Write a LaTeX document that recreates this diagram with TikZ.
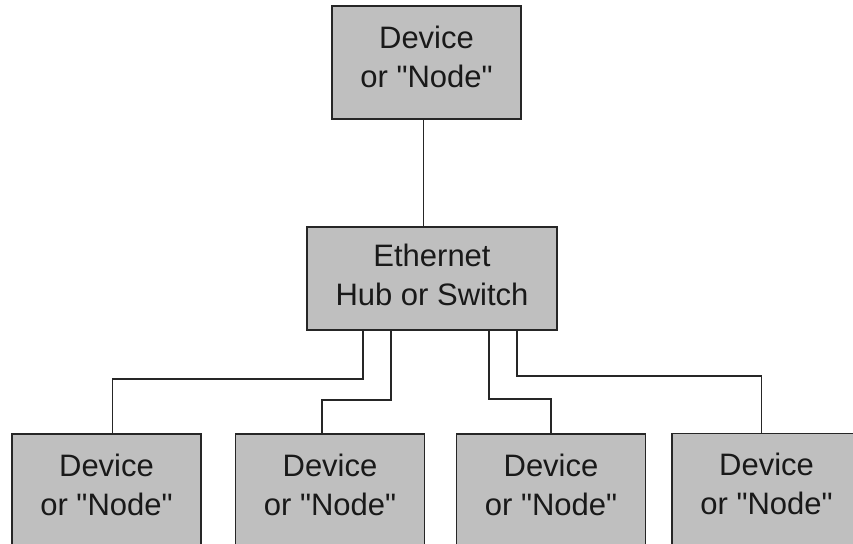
\documentclass[tikz,border=0pt]{standalone}
\usepackage{fontspec}
\setmainfont{Liberation Sans}
\usepackage{tikz}
\newcommand{\devtext}{Device\\or \textquotedbl Node\textquotedbl}
\tikzset{
    network diagram/.style={
            x=1pt,y=-1pt,
            every node/.style={font=\fontsize{31}{39}\selectfont, text=black!90, align=center},
            device/.style={draw=black!85, fill=black!25, line width=1.6pt, inner sep=0pt,
                    text depth=12pt, minimum width=189pt, minimum height=113pt},
            hub/.style={device, text depth=8pt, minimum width=250pt, minimum height=103pt},
            link/.style={draw=black!85, line width=1.6pt}
        }
    }

\begin{document}
\begin{tikzpicture}[network diagram]
    \useasboundingbox (0,0) rectangle (853,543);
    \clip (0,0) rectangle (853,543);
    \fill[white] (0,0) rectangle (853,543);
    \node [device] (top) at (426.5,62.5) {\devtext};
    \node [hub] (hub) at (432,278.5) {Ethernet\\Hub or Switch};
    \node [device] (d1) at (106.5,490.5) {\devtext};
    \node [device] (d2) at (330,490.5) {\devtext};
    \node [device] (d3) at (551,490.5) {\devtext};
    \node [device] (d4) at (766.5,490) {\devtext};
    \draw [link] ([xshift=-3pt]top.south) -- ([xshift=-3pt]top.south |- hub.north);
    \draw [link] ([xshift=-69pt]hub.south) -- ++(0,48) -| ([xshift=6pt]d1.north);
    \draw [link] ([xshift=-41pt]hub.south) -- ++(0,69) -| ([xshift=-8pt]d2.north);
    \draw [link] ([xshift=57pt]hub.south) -- ++(0,68) -| (d3.north);
    \draw [link] ([xshift=85pt]hub.south) -- ++(0,45) -| ([xshift=-5pt]d4.north);
\end{tikzpicture}
\end{document}
